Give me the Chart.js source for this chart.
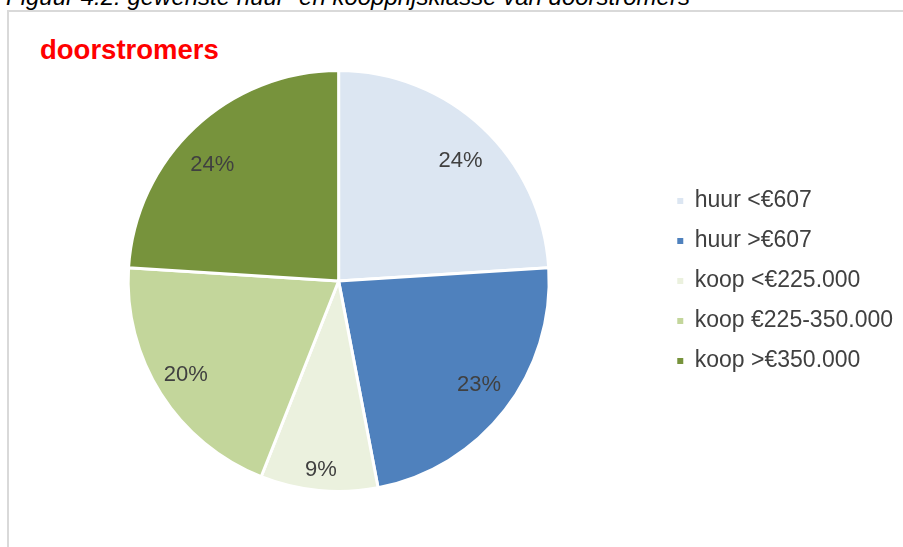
<!DOCTYPE html>
<html>
<head>
<meta charset="utf-8">
<title>doorstromers</title>
<script src="https://cdn.jsdelivr.net/npm/chart.js@4"></script>
<style>
  html, body { margin: 0; padding: 0; background: #ffffff; }
  body { width: 903px; height: 547px; position: relative; overflow: hidden;
         font-family: "Liberation Sans", Arial, sans-serif; }
  .caption { position: absolute; left: 6px; top: -15px; font-size: 24px; line-height: 1;
             font-style: italic; color: #000000; white-space: nowrap; }
  .frame { position: absolute; left: 7px; top: 10px; right: -4px; bottom: -4px;
           border-left: 2px solid #d9d9d9; border-top: 2px solid #d9d9d9; }
  .title { position: absolute; left: 40px; top: 36px; font-size: 27.5px; line-height: 1;
           font-weight: bold; color: #ff0000; white-space: nowrap; }
  #chart { position: absolute; left: 0; top: 0; }
</style>
</head>
<body>
<div class="caption">Figuur 4.2: gewenste huur- en koopprijsklasse van doorstromers</div>
<div class="frame"></div>
<div class="title">doorstromers</div>
<canvas id="chart" width="903" height="547"></canvas>
<script>
// Price classes wanted by movers (rent / buy)
const categories = ['huur <€607', 'huur >€607', 'koop <€225.000', 'koop €225-350.000', 'koop >€350.000'];
const shares = [24, 23, 9, 20, 24];
const sliceColors = ['#dce6f2', '#4f81bd', '#ebf1de', '#c3d69b', '#77933c'];

// where each percentage label sits: fraction along the slice's arc, and fraction of the radius
const labelAlong = [0.52, 0.48, 0.5, 0.52, 0.457];
const labelRadius = [0.82, 0.826, 0.894, 0.847, 0.822];

const textFont = '"Liberation Sans", Arial, sans-serif';

const sliceLabels = {
  id: 'sliceLabels',
  afterDatasetsDraw(chart) {
    const ctx = chart.ctx;
    const meta = chart.getDatasetMeta(0);
    const values = chart.data.datasets[0].data;
    const size = 22;
    ctx.save();
    ctx.font = size + 'px ' + textFont;
    ctx.fillStyle = '#404040';
    ctx.textAlign = 'center';
    ctx.textBaseline = 'alphabetic';
    meta.data.forEach((arc, i) => {
      const p = arc.getProps(['x', 'y', 'startAngle', 'endAngle', 'outerRadius'], true);
      const a = p.startAngle + (p.endAngle - p.startAngle) * labelAlong[i];
      const r = p.outerRadius * labelRadius[i];
      // centre the digits vertically on the anchor point
      ctx.fillText(values[i] + '%', p.x + Math.cos(a) * r, p.y + Math.sin(a) * r + size * 0.358);
    });
    ctx.restore();
  }
};

new Chart(document.getElementById('chart'), {
  type: 'pie',
  data: {
    labels: categories,
    datasets: [{
      data: shares,
      backgroundColor: sliceColors,
      borderColor: '#ffffff',
      borderWidth: 3
    }]
  },
  options: {
    responsive: false,
    animation: false,
    devicePixelRatio: 1,
    radius: 210.5,
    layout: { padding: { top: 70, bottom: 55, left: 17, right: 0 } },
    plugins: {
      title: { display: false },
      tooltip: { enabled: false },
      legend: {
        position: 'right',
        align: 'center',
        labels: {
          boxWidth: 6,
          boxHeight: 6,
          padding: 17,
          color: '#404040',
          font: { size: 23, family: textFont },
          generateLabels(chart) {
            const items = Chart.overrides.pie.plugins.legend.labels.generateLabels(chart);
            return items.map(it => Object.assign(it, { lineWidth: 0, strokeStyle: 'rgba(0,0,0,0)' }));
          }
        }
      }
    }
  },
  plugins: [sliceLabels]
});
</script>
</body>
</html>
